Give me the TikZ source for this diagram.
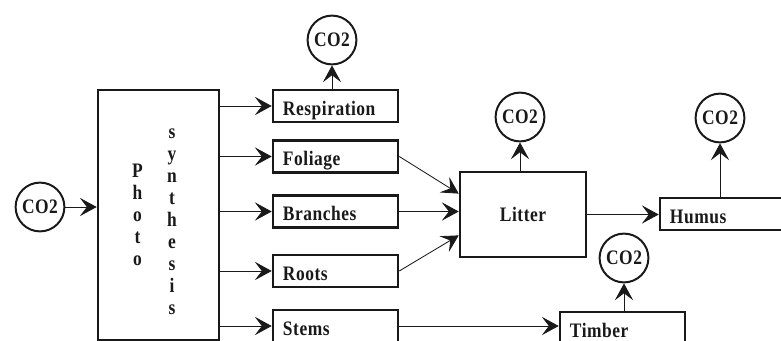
\documentclass[tikz,border=0pt]{standalone}
\usepackage{fontspec}
\setmainfont{Liberation Serif}
\usepackage{graphicx}
\usetikzlibrary{arrows.meta}
\newcommand{\lblfont}{\fontsize{12.4}{14}\selectfont\bfseries\addfontfeatures{LetterSpace=3}}
\newcommand{\tall}[1]{\scalebox{1}[1.18]{#1}}
\tikzset{
  frame/.style={draw, line width=1.8pt},
  box/.style={frame, minimum height=0.8cm, text width=2.625cm, inner xsep=0.25cm,
    align=left, text height=0.45cm, text depth=0cm, font=\lblfont},
  gas/.style={draw, circle, line width=1.4pt, minimum size=1.22cm, inner sep=0pt, font=\lblfont},
  flow/.style={-{Stealth[length=12pt, width=13pt, inset=5pt]}, line width=0.6pt},
}

\begin{document}
\begin{tikzpicture}[x=0.025cm, y=-0.025cm, color=black!90]
  \clip (0,0) rectangle (781,341);
  % source and photosynthesis
  \node [gas] (co2in) at (40,207) {\tall{CO2}};
  \node [frame, minimum width=3.025cm, minimum height=6.25cm] (photo) at (158.5,215) {};
  \foreach \c [count=\i] in {P,h,o,t,o}
    \node [anchor=base, font=\lblfont] (p\i) at (137.5,{177+22*(\i-1)}) {\tall{\c}};
  \foreach \c [count=\i] in {s,y,n,t,h,e,s,i,s}
    \node [anchor=base, font=\lblfont] (s\i) at (172,{138+22*(\i-1)}) {\tall{\c}};
  % pools
  \node [box] (resp) at (335.5,106) {\tall{Respiration}};
  \node [box] (foliage) at (335.5,156.5) {\tall{Foliage}};
  \node [box] (branches) at (335.5,211.5) {\tall{Branches}};
  \node [box] (roots) at (335.5,271) {\tall{Roots}};
  \node [box] (stems) at (335.5,326) {\tall{Stems}};
  \node [frame, minimum width=3.15cm, minimum height=2.125cm, font=\lblfont] (litter) at (523,214.5) {\tall{Litter}};
  \node [box, text width=3cm] (humus) at (730,214) {\tall{Humus}};
  \node [box] (timber) at (622.5,328) {\tall{Timber}};
  % released carbon
  \node [gas] (co2r) at (332,40) {\tall{CO2}};
  \node [gas] (co2l) at (520,117) {\tall{CO2}};
  \node [gas] (co2h) at (720,118) {\tall{CO2}};
  \node [gas] (co2t) at (624,258) {\tall{CO2}};
  % flows
  \draw [flow] (co2in) -- (co2in -| photo.west);
  \foreach \n in {resp,foliage,branches,roots,stems}
    \draw [flow] (photo.east |- \n) -- (\n);
  \draw [flow] (foliage.east) -- (litter.162);
  \draw [flow] (branches.east) -- (branches.east -| litter.west);
  \draw [flow] (roots.east) -- (litter.198);
  \draw [flow] (litter.east) -- (litter.east -| humus.west);
  \draw [flow] (stems.east) -- (stems.east -| timber.west);
  \draw [flow] (co2r |- resp.north) -- (co2r);
  \draw [flow] (co2l |- litter.north) -- (co2l);
  \draw [flow] (co2h |- humus.north) -- (co2h);
  \draw [flow] (co2t |- timber.north) -- (co2t);
\end{tikzpicture}
\end{document}
